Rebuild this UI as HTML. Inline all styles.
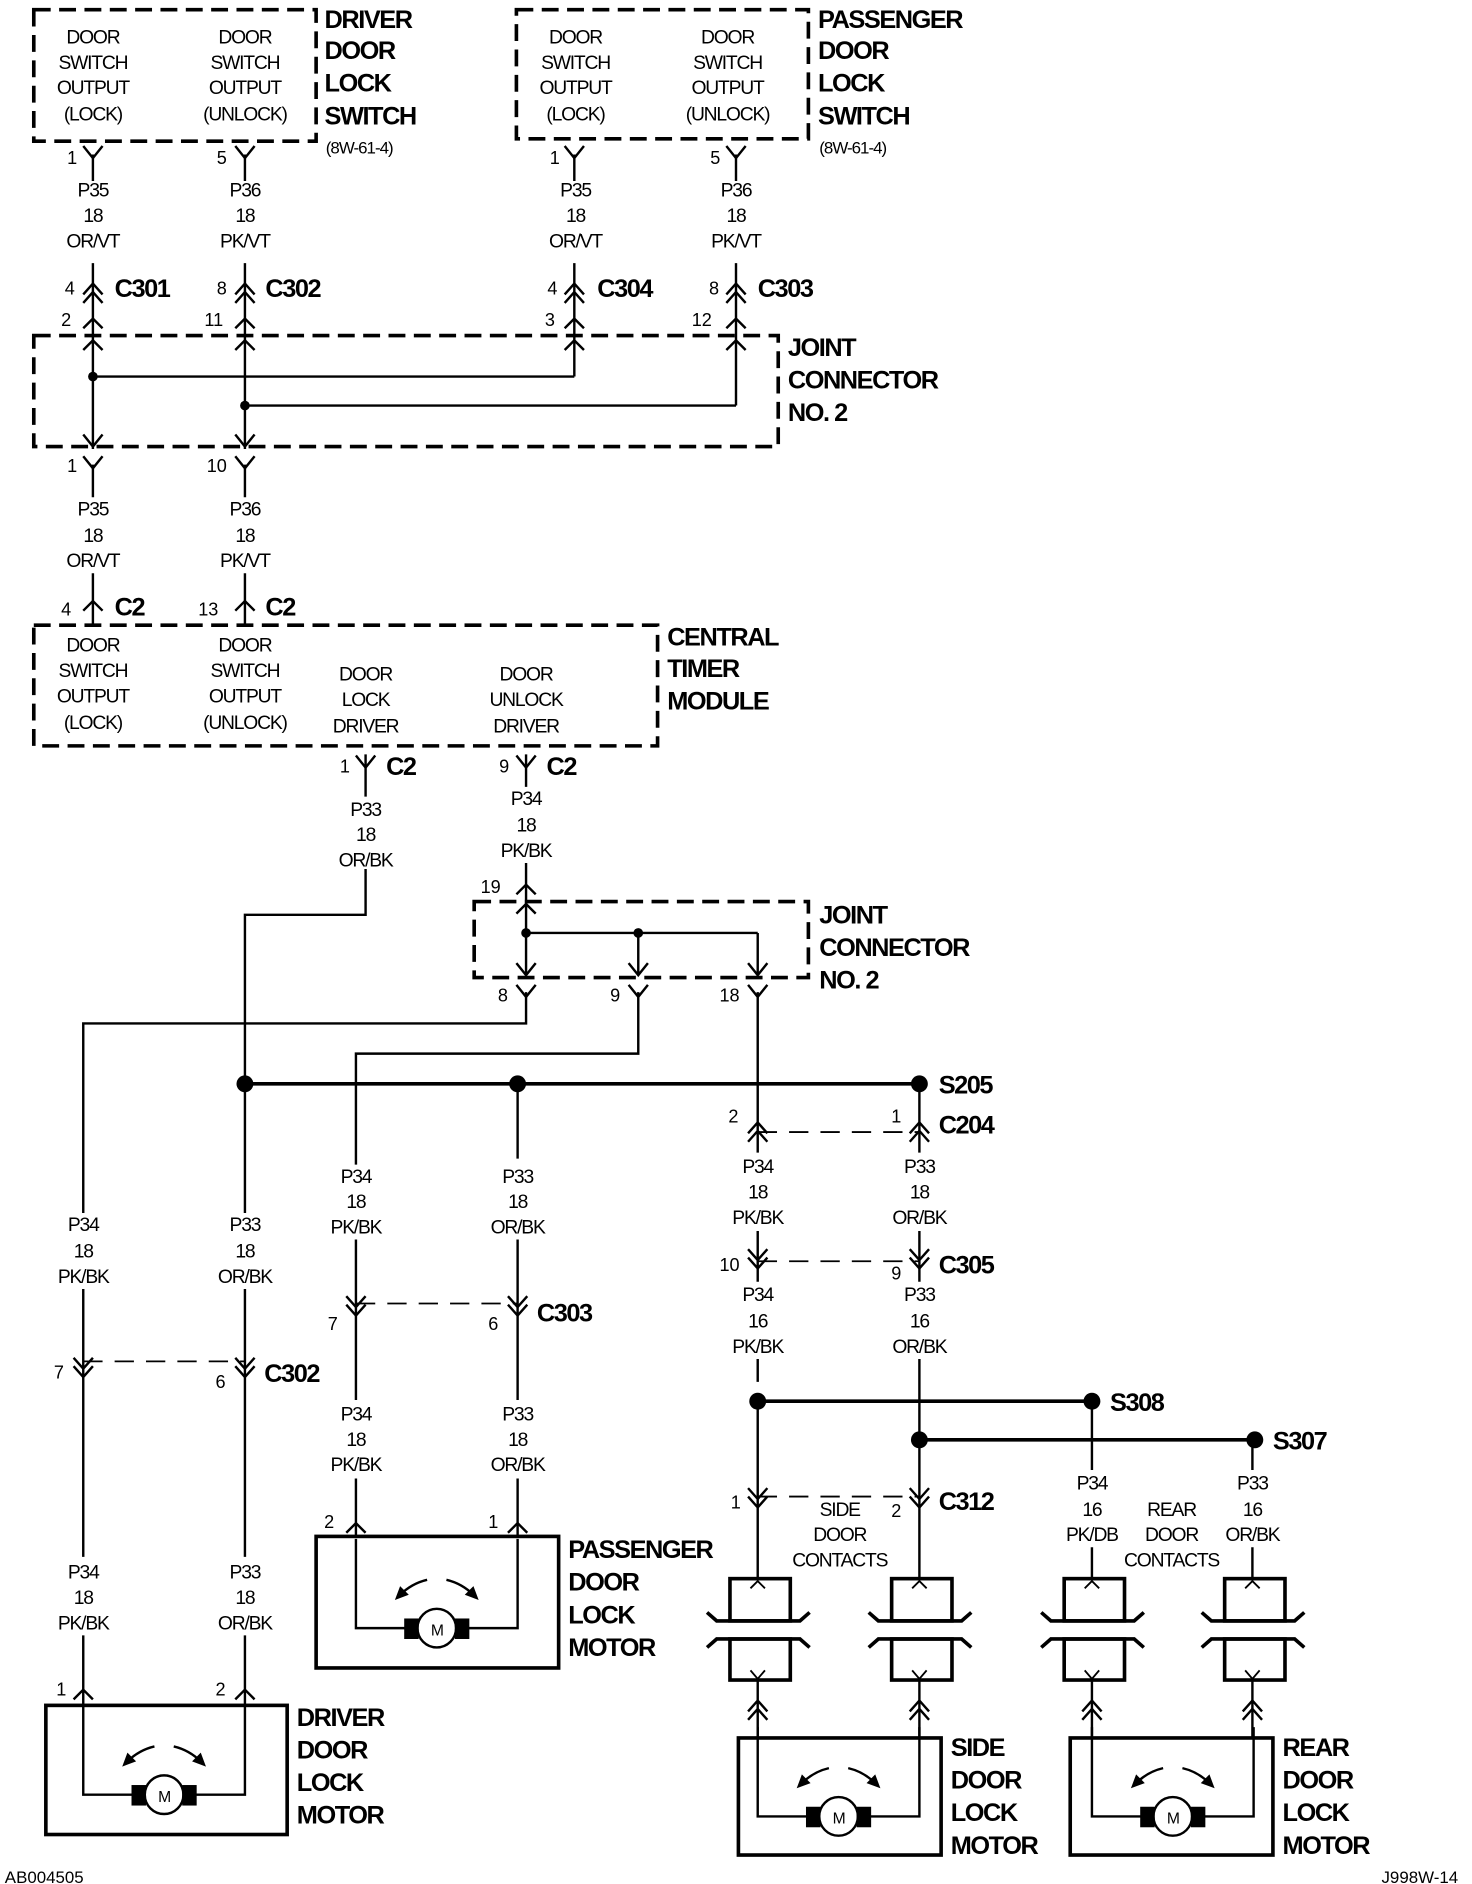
<!DOCTYPE html>
<html><head><meta charset="utf-8"><style>
html,body{margin:0;padding:0;background:#fff}
svg{display:block}
text{font-family:"Liberation Sans",sans-serif;fill:#000}
.s{font-size:16px;text-anchor:middle;letter-spacing:-1px}
.n{font-size:15px;text-anchor:end}
.b{font-size:21px;font-weight:bold;letter-spacing:-1.2px}
</style></head><body>
<svg width="1472" height="1884" viewBox="0 0 1220 1561" preserveAspectRatio="none" xmlns="http://www.w3.org/2000/svg">
<defs>
<path id="y" d="M-8,-10 L0,0 L8,-10" fill="none" stroke="#000" stroke-width="2"/>
<path id="l" d="M-8,8 L0,0 L8,8" fill="none" stroke="#000" stroke-width="2"/>
<path id="uu" d="M-8,6 L0,-3 L8,6 M-8,13 L0,4 L8,13" fill="none" stroke="#000" stroke-width="2"/>
<path id="dd" d="M-8,-6 L0,3 L8,-6 M-8,-13 L0,-4 L8,-13" fill="none" stroke="#000" stroke-width="2"/>
<g id="ct" fill="none" stroke="#000" stroke-width="3">
<rect x="-23" y="0" width="50" height="35"/>
<path d="M-42,28 L-34,35 L35,35 L43,28"/>
<path d="M-42,57 L-34,50 L35,50 L43,57"/>
<rect x="-23" y="50" width="50" height="34"/>
<path d="M-6,8 L0,2 L6,8 M-6,76 L0,83 L6,76" stroke-width="1.5"/>
</g>
</defs>
<g fill="none" stroke="#000" stroke-width="2">
<g stroke-width="3" stroke-dasharray="14,7">
<rect x="28" y="8" width="234" height="109"/>
<rect x="428" y="8" width="242" height="107"/>
<rect x="28" y="278" width="617" height="92"/>
<rect x="28" y="518" width="517" height="100"/>
<rect x="393" y="747" width="277" height="63"/>
</g>
<path d="M77,128 V150 M77,218 V372 M203,128 V150 M203,218 V372 M476,128 V150 M476,218 V312 M610,128 V150 M610,218 V336"/>
<path d="M77,312 H476 M203,336 H610"/>
<path d="M77,385 V412 M77,475 V518 M203,385 V412 M203,475 V518"/>
<path d="M303,625 V660 M303,720 V758 H203 V1005 M436,625 V652 M436,715 V808"/>
<path d="M436,773 H628 M529,773 V808 M628,773 V808"/>
<path d="M436,822 V848 H69 V1005 M69,1068 V1290 M69,1355 V1413 M203,1068 V1290 M203,1355 V1413"/>
<path d="M529,822 V873 H295 V965 M295,1027 V1160 M295,1225 V1273 M429,898 V960 M429,1027 V1160 M429,1225 V1273"/>
<path d="M628,822 V955 M762,898 V955 M628,1020 V1062 M762,1020 V1062 M628,1126 V1145 M628,1161 V1308 M762,1126 V1308 M905,1161 V1218 M905,1282 V1308 M1038,1193 V1218 M1038,1282 V1308"/>
<path d="M628,1392 V1440 M762,1392 V1440 M905,1392 V1440 M1038,1392 V1440"/>
<path d="M203,898 H762 M628,1161 H905 M762,1193 H1040" stroke-width="3"/>
<path d="M628,938 H762 M295,1080 H429 M69,1128 H203 M628,1045 H762 M628,1240 H762" stroke-dasharray="16,10" stroke-width="1.5"/>
<use href="#y" x="77" y="131"/><use href="#y" x="203" y="131"/><use href="#y" x="476" y="131"/><use href="#y" x="610" y="131"/>
<use href="#uu" x="77" y="238"/><use href="#uu" x="203" y="238"/><use href="#uu" x="476" y="238"/><use href="#uu" x="610" y="238"/>
<use href="#l" x="77" y="264"/><use href="#l" x="203" y="264"/><use href="#l" x="476" y="264"/><use href="#l" x="610" y="264"/>
<use href="#l" x="77" y="282"/><use href="#l" x="203" y="282"/><use href="#l" x="476" y="282"/><use href="#l" x="610" y="282"/>
<use href="#y" x="77" y="370"/><use href="#y" x="203" y="370"/>
<use href="#y" x="77" y="388"/><use href="#y" x="203" y="388"/>
<use href="#l" x="77" y="498"/><use href="#l" x="203" y="498"/>
<use href="#y" x="303" y="636"/><use href="#y" x="436" y="636"/>
<use href="#l" x="436" y="733"/><use href="#l" x="436" y="749"/>
<use href="#y" x="436" y="808"/><use href="#y" x="529" y="808"/><use href="#y" x="628" y="808"/>
<use href="#y" x="436" y="826"/><use href="#y" x="529" y="826"/><use href="#y" x="628" y="826"/>
<use href="#uu" x="628" y="933"/><use href="#uu" x="762" y="933"/>
<use href="#dd" x="628" y="1048"/><use href="#dd" x="762" y="1048"/>
<use href="#dd" x="295" y="1087"/><use href="#dd" x="429" y="1087"/>
<use href="#dd" x="69" y="1138"/><use href="#dd" x="203" y="1138"/>
<use href="#dd" x="628" y="1246"/><use href="#dd" x="762" y="1246"/>
<use href="#l" x="295" y="1262"/><use href="#l" x="429" y="1262"/>
<use href="#l" x="69" y="1400"/><use href="#l" x="203" y="1400"/>
<use href="#uu" x="628" y="1412"/><use href="#uu" x="762" y="1412"/><use href="#uu" x="905" y="1412"/><use href="#uu" x="1038" y="1412"/>
<use href="#ct" x="628" y="1308"/><use href="#ct" x="762" y="1308"/><use href="#ct" x="905" y="1308"/><use href="#ct" x="1038" y="1308"/>
<g stroke-width="3"><rect x="38" y="1413" width="200" height="107"/><rect x="262" y="1273" width="201" height="109"/><rect x="612" y="1440" width="168" height="97"/><rect x="887" y="1440" width="168" height="97"/></g>
<g id="m1"><path d="M69,1413 V1487 H110 M162,1487 H203 V1413"/><circle cx="136" cy="1487" r="16"/><rect x="110" y="1480" width="10" height="15" fill="#000"/><rect x="152" y="1480" width="10" height="15" fill="#000"/><path d="M105,1460 Q115,1450 128,1447 M144,1447 Q157,1450 167,1460"/><path d="M103,1462 l3,-8 l5,5z M169,1462 l-3,-8 l-5,5z" fill="#000"/></g>
<use href="#m1" x="226" y="-138"/>
<use href="#m1" x="559" y="18"/>
<use href="#m1" x="836" y="18"/>
</g>
<g fill="#000"><circle cx="77" cy="312" r="4"/><circle cx="203" cy="336" r="4"/><circle cx="436" cy="773" r="4"/><circle cx="529" cy="773" r="4"/>
<circle cx="203" cy="898" r="7"/><circle cx="429" cy="898" r="7"/><circle cx="762" cy="898" r="7"/><circle cx="628" cy="1161" r="7"/><circle cx="905" cy="1161" r="7"/><circle cx="762" cy="1193" r="7"/><circle cx="1040" cy="1193" r="7"/></g>
<g class="s">
<text x="77" y="36">DOOR</text><text x="77" y="57">SWITCH</text><text x="77" y="78">OUTPUT</text><text x="77" y="100">(LOCK)</text>
<text x="203" y="36">DOOR</text><text x="203" y="57">SWITCH</text><text x="203" y="78">OUTPUT</text><text x="203" y="100">(UNLOCK)</text>
<text x="477" y="36">DOOR</text><text x="477" y="57">SWITCH</text><text x="477" y="78">OUTPUT</text><text x="477" y="100">(LOCK)</text>
<text x="603" y="36">DOOR</text><text x="603" y="57">SWITCH</text><text x="603" y="78">OUTPUT</text><text x="603" y="100">(UNLOCK)</text>
<text x="77" y="163">P35</text><text x="77" y="184">18</text><text x="77" y="205">OR/VT</text>
<text x="203" y="163">P36</text><text x="203" y="184">18</text><text x="203" y="205">PK/VT</text>
<text x="477" y="163">P35</text><text x="477" y="184">18</text><text x="477" y="205">OR/VT</text>
<text x="610" y="163">P36</text><text x="610" y="184">18</text><text x="610" y="205">PK/VT</text>
<text x="77" y="427">P35</text><text x="77" y="449">18</text><text x="77" y="470">OR/VT</text>
<text x="203" y="427">P36</text><text x="203" y="449">18</text><text x="203" y="470">PK/VT</text>
<text x="77" y="540">DOOR</text><text x="77" y="561">SWITCH</text><text x="77" y="582">OUTPUT</text><text x="77" y="604">(LOCK)</text>
<text x="203" y="540">DOOR</text><text x="203" y="561">SWITCH</text><text x="203" y="582">OUTPUT</text><text x="203" y="604">(UNLOCK)</text>
<text x="303" y="564">DOOR</text><text x="303" y="585">LOCK</text><text x="303" y="607">DRIVER</text>
<text x="436" y="564">DOOR</text><text x="436" y="585">UNLOCK</text><text x="436" y="607">DRIVER</text>
<text x="303" y="676">P33</text><text x="303" y="697">18</text><text x="303" y="718">OR/BK</text>
<text x="436" y="667">P34</text><text x="436" y="689">18</text><text x="436" y="710">PK/BK</text>
<text x="69" y="1020">P34</text><text x="69" y="1042">18</text><text x="69" y="1063">PK/BK</text>
<text x="203" y="1020">P33</text><text x="203" y="1042">18</text><text x="203" y="1063">OR/BK</text>
<text x="295" y="980">P34</text><text x="295" y="1001">18</text><text x="295" y="1022">PK/BK</text>
<text x="429" y="980">P33</text><text x="429" y="1001">18</text><text x="429" y="1022">OR/BK</text>
<text x="628" y="972">P34</text><text x="628" y="993">18</text><text x="628" y="1014">PK/BK</text>
<text x="762" y="972">P33</text><text x="762" y="993">18</text><text x="762" y="1014">OR/BK</text>
<text x="628" y="1078">P34</text><text x="628" y="1100">16</text><text x="628" y="1121">PK/BK</text>
<text x="762" y="1078">P33</text><text x="762" y="1100">16</text><text x="762" y="1121">OR/BK</text>
<text x="295" y="1177">P34</text><text x="295" y="1198">18</text><text x="295" y="1219">PK/BK</text>
<text x="429" y="1177">P33</text><text x="429" y="1198">18</text><text x="429" y="1219">OR/BK</text>
<text x="69" y="1308">P34</text><text x="69" y="1329">18</text><text x="69" y="1350">PK/BK</text>
<text x="203" y="1308">P33</text><text x="203" y="1329">18</text><text x="203" y="1350">OR/BK</text>
<text x="696" y="1256">SIDE</text><text x="696" y="1277">DOOR</text><text x="696" y="1298">CONTACTS</text>
<text x="905" y="1234">P34</text><text x="905" y="1256">16</text><text x="905" y="1277">PK/DB</text>
<text x="971" y="1256">REAR</text><text x="971" y="1277">DOOR</text><text x="971" y="1298">CONTACTS</text>
<text x="1038" y="1234">P33</text><text x="1038" y="1256">16</text><text x="1038" y="1277">OR/BK</text>
<text x="136" y="1493" style="font-size:13px">M</text><text x="362" y="1355" style="font-size:13px">M</text><text x="695" y="1511" style="font-size:13px">M</text><text x="972" y="1511" style="font-size:13px">M</text>
</g>
<g class="n">
<text x="64" y="136">1</text><text x="188" y="136">5</text><text x="464" y="136">1</text><text x="597" y="136">5</text>
<text x="62" y="244">4</text><text x="188" y="244">8</text><text x="462" y="244">4</text><text x="596" y="244">8</text>
<text x="59" y="270">2</text><text x="185" y="270">11</text><text x="460" y="270">3</text><text x="590" y="270">12</text>
<text x="64" y="391">1</text><text x="188" y="391">10</text>
<text x="59" y="510">4</text><text x="181" y="510">13</text>
<text x="290" y="640">1</text><text x="422" y="640">9</text>
<text x="415" y="740">19</text>
<text x="421" y="830">8</text><text x="514" y="830">9</text><text x="613" y="830">18</text>
<text x="612" y="930">2</text><text x="747" y="930">1</text>
<text x="613" y="1053">10</text><text x="747" y="1060">9</text>
<text x="280" y="1102">7</text><text x="413" y="1102">6</text>
<text x="53" y="1142">7</text><text x="187" y="1150">6</text>
<text x="614" y="1250">1</text><text x="747" y="1257">2</text>
<text x="277" y="1266">2</text><text x="413" y="1266">1</text>
<text x="55" y="1405">1</text><text x="187" y="1405">2</text>
</g>
<g class="b">
<text x="269" y="23">DRIVER</text><text x="269" y="49">DOOR</text><text x="269" y="76">LOCK</text><text x="269" y="103">SWITCH</text>
<text x="678" y="23">PASSENGER</text><text x="678" y="49">DOOR</text><text x="678" y="76">LOCK</text><text x="678" y="103">SWITCH</text>
<text x="95" y="246">C301</text><text x="220" y="246">C302</text><text x="495" y="246">C304</text><text x="628" y="246">C303</text>
<text x="653" y="295">JOINT</text><text x="653" y="322">CONNECTOR</text><text x="653" y="349">NO. 2</text>
<text x="95" y="510">C2</text><text x="220" y="510">C2</text>
<text x="553" y="535">CENTRAL</text><text x="553" y="561">TIMER</text><text x="553" y="588">MODULE</text>
<text x="320" y="642">C2</text><text x="453" y="642">C2</text>
<text x="679" y="765">JOINT</text><text x="679" y="792">CONNECTOR</text><text x="679" y="819">NO. 2</text>
<text x="778" y="906">S205</text><text x="778" y="939">C204</text><text x="778" y="1055">C305</text>
<text x="445" y="1095">C303</text><text x="219" y="1145">C302</text>
<text x="920" y="1169">S308</text><text x="1055" y="1201">S307</text><text x="778" y="1251">C312</text>
<text x="471" y="1291">PASSENGER</text><text x="471" y="1318">DOOR</text><text x="471" y="1345">LOCK</text><text x="471" y="1372">MOTOR</text>
<text x="246" y="1430">DRIVER</text><text x="246" y="1457">DOOR</text><text x="246" y="1484">LOCK</text><text x="246" y="1511">MOTOR</text>
<text x="788" y="1455">SIDE</text><text x="788" y="1482">DOOR</text><text x="788" y="1509">LOCK</text><text x="788" y="1536">MOTOR</text>
<text x="1063" y="1455">REAR</text><text x="1063" y="1482">DOOR</text><text x="1063" y="1509">LOCK</text><text x="1063" y="1536">MOTOR</text>
</g>
<text x="270" y="127" style="font-size:14px;letter-spacing:-0.8px">(8W-61-4)</text>
<text x="679" y="127" style="font-size:14px;letter-spacing:-0.8px">(8W-61-4)</text>
<text x="4" y="1560" style="font-size:14px">AB004505</text>
<text x="1145" y="1560" style="font-size:14px">J998W-14</text>
</svg>
</body></html>
